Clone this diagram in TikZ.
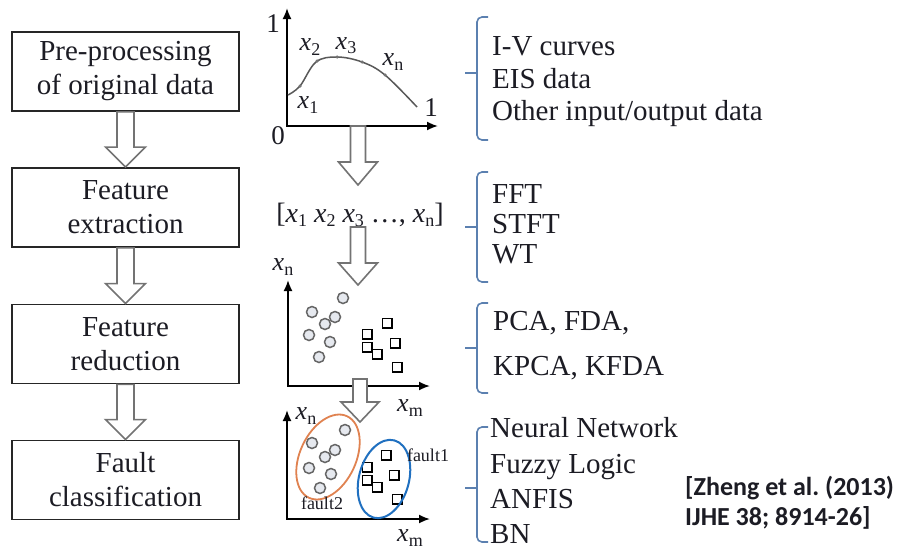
\documentclass[tikz,border=0pt]{standalone}
\usepackage{fontspec}
\setmainfont{Liberation Serif}
\newfontfamily\citefont{Carlito}
\usetikzlibrary{calc,arrows.meta}
\definecolor{bracecol}{HTML}{5B80B0}
\definecolor{txt}{HTML}{1C1C24}
\definecolor{dotfill}{HTML}{E6E9EF}
\definecolor{orangec}{HTML}{E08250}
\definecolor{bluec}{HTML}{2070C0}
\newcommand\vx[1]{{\itshape x}\raisebox{-0.35ex}{\fontsize{18}{18}\selectfont #1}}
\newcommand\harrow[5]{%
  \draw[hollow] ($(#1)+(-#4,0)$) -- ($(#2)+(-#4,-#3)$) -- ($(#2)+(-#5,-#3)$) -- (#2)
    -- ($(#2)+(#5,-#3)$) -- ($(#2)+(#4,-#3)$) -- ($(#1)+(#4,0)$) -- cycle;}
\newcommand\bracketat[3]{%
  \draw[bracketline] (488,#1) -- (477,#1) -- (477,#3) -- (488,#3);
  \draw[bracketline, rounded corners=0pt] (465,#2) -- (477,#2);}
\begin{document}
\begin{tikzpicture}[x=1pt,y=-1pt,
  box/.style={draw=black!85, line width=1.8pt, minimum width=227pt, minimum height=79pt,
    align=center, font=\fontsize{29}{34}\selectfont, inner sep=0pt, text=txt},
  hollow/.style={draw=black!55, line width=1.6pt, fill=white, line join=miter},
  axis/.style={line width=1.8pt, {Latex[length=11pt,width=9pt]}-{Latex[length=11pt,width=9pt]}},
  bracketline/.style={draw=bracecol, line width=1.6pt, rounded corners=5pt},
  item/.style={anchor=base west, font=\fontsize{29}{29}\selectfont, inner sep=0pt, text=txt},
  num/.style={font=\fontsize{27}{27}\selectfont, inner sep=0pt, text=txt},
  lab/.style={font=\fontsize{26}{26}\selectfont, inner sep=0pt, text=txt},
  dot/.style={circle, draw=black!60, fill=dotfill, line width=1.5pt, minimum size=11pt, inner sep=0pt},
  sq/.style={rectangle, draw=black, fill=white, line width=1.5pt, minimum size=9.5pt, inner sep=0pt},
  cdot/.style={circle, fill=black!55, minimum size=3.5pt, inner sep=0pt},
  fault/.style={font=\fontsize{18}{18}\selectfont, inner sep=0pt, text=txt}]
\useasboundingbox (0,0) rectangle (902,549);
\fill[white] (0,0) rectangle (902,549);

% left flow boxes
\node[box] (b1) at (125.5,71.5) {Pre-processing\\of original data};
\node[box] (b2) at (125.5,207.5) {Feature\\extraction};
\node[box] (b3) at (125.5,344) {Feature\\reduction};
\node[box] (b4) at (125.5,480) {Fault\\classification};
\harrow{b1.south}{b2.north}{20}{8.5}{20}
\harrow{b2.south}{b3.north}{20}{8.5}{20}
\harrow{b3.south}{b4.north}{20}{8.5}{20}

% graph 1
\coordinate (g1y) at (287,8);
\coordinate (g1o) at (287,126);
\coordinate (g1x) at (438,126);
\draw[axis] (g1y) -- (g1o) -- (g1x);
\node[num] (n1) at (273,24) {1};
\node[num] (n0) at (278,136) {0};
\node[num] (n1r) at (431,108) {1};
\draw[black!65, line width=1.5pt] plot[smooth, tension=0.6] coordinates
  {(288,95) (300,86) (316,62) (337,57) (362,62) (385,75) (417,107)};
\node[cdot] at (300,86) {};
\node[cdot] at (317,61) {};
\node[cdot] at (337,57) {};
\node[cdot] at (362,62) {};
\node[cdot] at (385,75) {};
\node[lab] (lx1) at (308,105) {\vx{1}};
\node[lab] (lx2) at (310,47) {\vx{2}};
\node[lab] (lx3) at (346,46) {\vx{3}};
\node[lab] (lxn) at (393,62) {\vx{n}};

% vector
\coordinate (a1s) at (358,126);
\coordinate (a1e) at (358,185);
\harrow{a1s}{a1e}{23}{7.5}{19.5}
\node[font=\fontsize{28}{28}\selectfont, inner sep=0pt, text=txt] (vec) at (360,215)
  {[\vx{1} \vx{2} \vx{3} \ldots, \vx{n}]};
\coordinate (a2s) at (358,227);
\coordinate (a2e) at (358,285);
\harrow{a2s}{a2e}{22}{7.5}{19.5}

% scatter 1
\coordinate (s1y) at (288,280);
\coordinate (s1o) at (288,386);
\coordinate (s1x) at (430,386);
\draw[axis] (s1y) -- (s1o) -- (s1x);
\node[lab] (s1n) at (283,267) {\vx{n}};
\node[lab] (s1m) at (410,408) {\vx{m}};
\foreach \p in {(343,298),(312,312),(335,317),(325,324),(309,335),(330,342),(319,357)}
  \node[dot] at \p {};
\foreach \p in {(387,323),(367,334),(395,343),(367,347),(377,354),(397,367)}
  \node[sq] at \p {};

\coordinate (a3s) at (360,379);
\coordinate (a3e) at (360,422);
\harrow{a3s}{a3e}{20}{7}{19}

% scatter 2
\coordinate (s2y) at (287,410);
\coordinate (s2o) at (287,519);
\coordinate (s2x) at (430,519);
\draw[axis] (s2y) -- (s2o) -- (s2x);
\node[lab] (s2n) at (306,416) {\vx{n}};
\node[lab] (s2m) at (410,538) {\vx{m}};
\foreach \p in {(345,430),(312,443),(335,450),(325,457),(309,468),(331,474),(320,488)}
  \node[dot] at \p {};
\foreach \p in {(386,455),(367,467),(394,475),(367,480),(377,487),(397,499)}
  \node[sq] at \p {};
\draw[orangec, line width=1.8pt] (328,457) ellipse[x radius=28, y radius=45, rotate=-25];
\draw[bluec, line width=2pt] (384,479) ellipse[x radius=25, y radius=40, rotate=-15];
\node[fault] (f1) at (428,455) {fault1};
\node[fault] (f2) at (322,503) {fault2};

% right column
\bracketat{17}{73}{140}
\node[item] (t11) at (492,55) {I-V curves};
\node[item] (t12) at (492,88) {EIS data};
\node[item] (t13) at (492,120) {Other input/output data};
\bracketat{172}{227}{282}
\node[item] (t21) at (492,203) {FFT};
\node[item] (t22) at (492,233) {STFT};
\node[item] (t23) at (492,263) {WT};
\bracketat{303}{348}{393}
\node[item] (t31) at (493,330) {PCA, FDA,};
\node[item] (t32) at (493,375) {KPCA, KFDA};
\bracketat{427}{488}{542}
\node[item] (t41) at (490,437) {Neural Network};
\node[item] (t42) at (490,473) {Fuzzy Logic};
\node[item] (t43) at (490,508) {ANFIS};
\node[item] (t44) at (490,543) {BN};

% citation
\node[anchor=base west, inner sep=0pt, text=txt, font=\citefont\bfseries\fontsize{26}{26}\selectfont] (c1) at (685,495) {[Zheng et al.\ (2013)};
\node[anchor=base west, inner sep=0pt, text=txt, font=\citefont\bfseries\fontsize{26}{26}\selectfont] (c2) at (685,525) {IJHE 38; 8914-26]};
\end{tikzpicture}
\end{document}
